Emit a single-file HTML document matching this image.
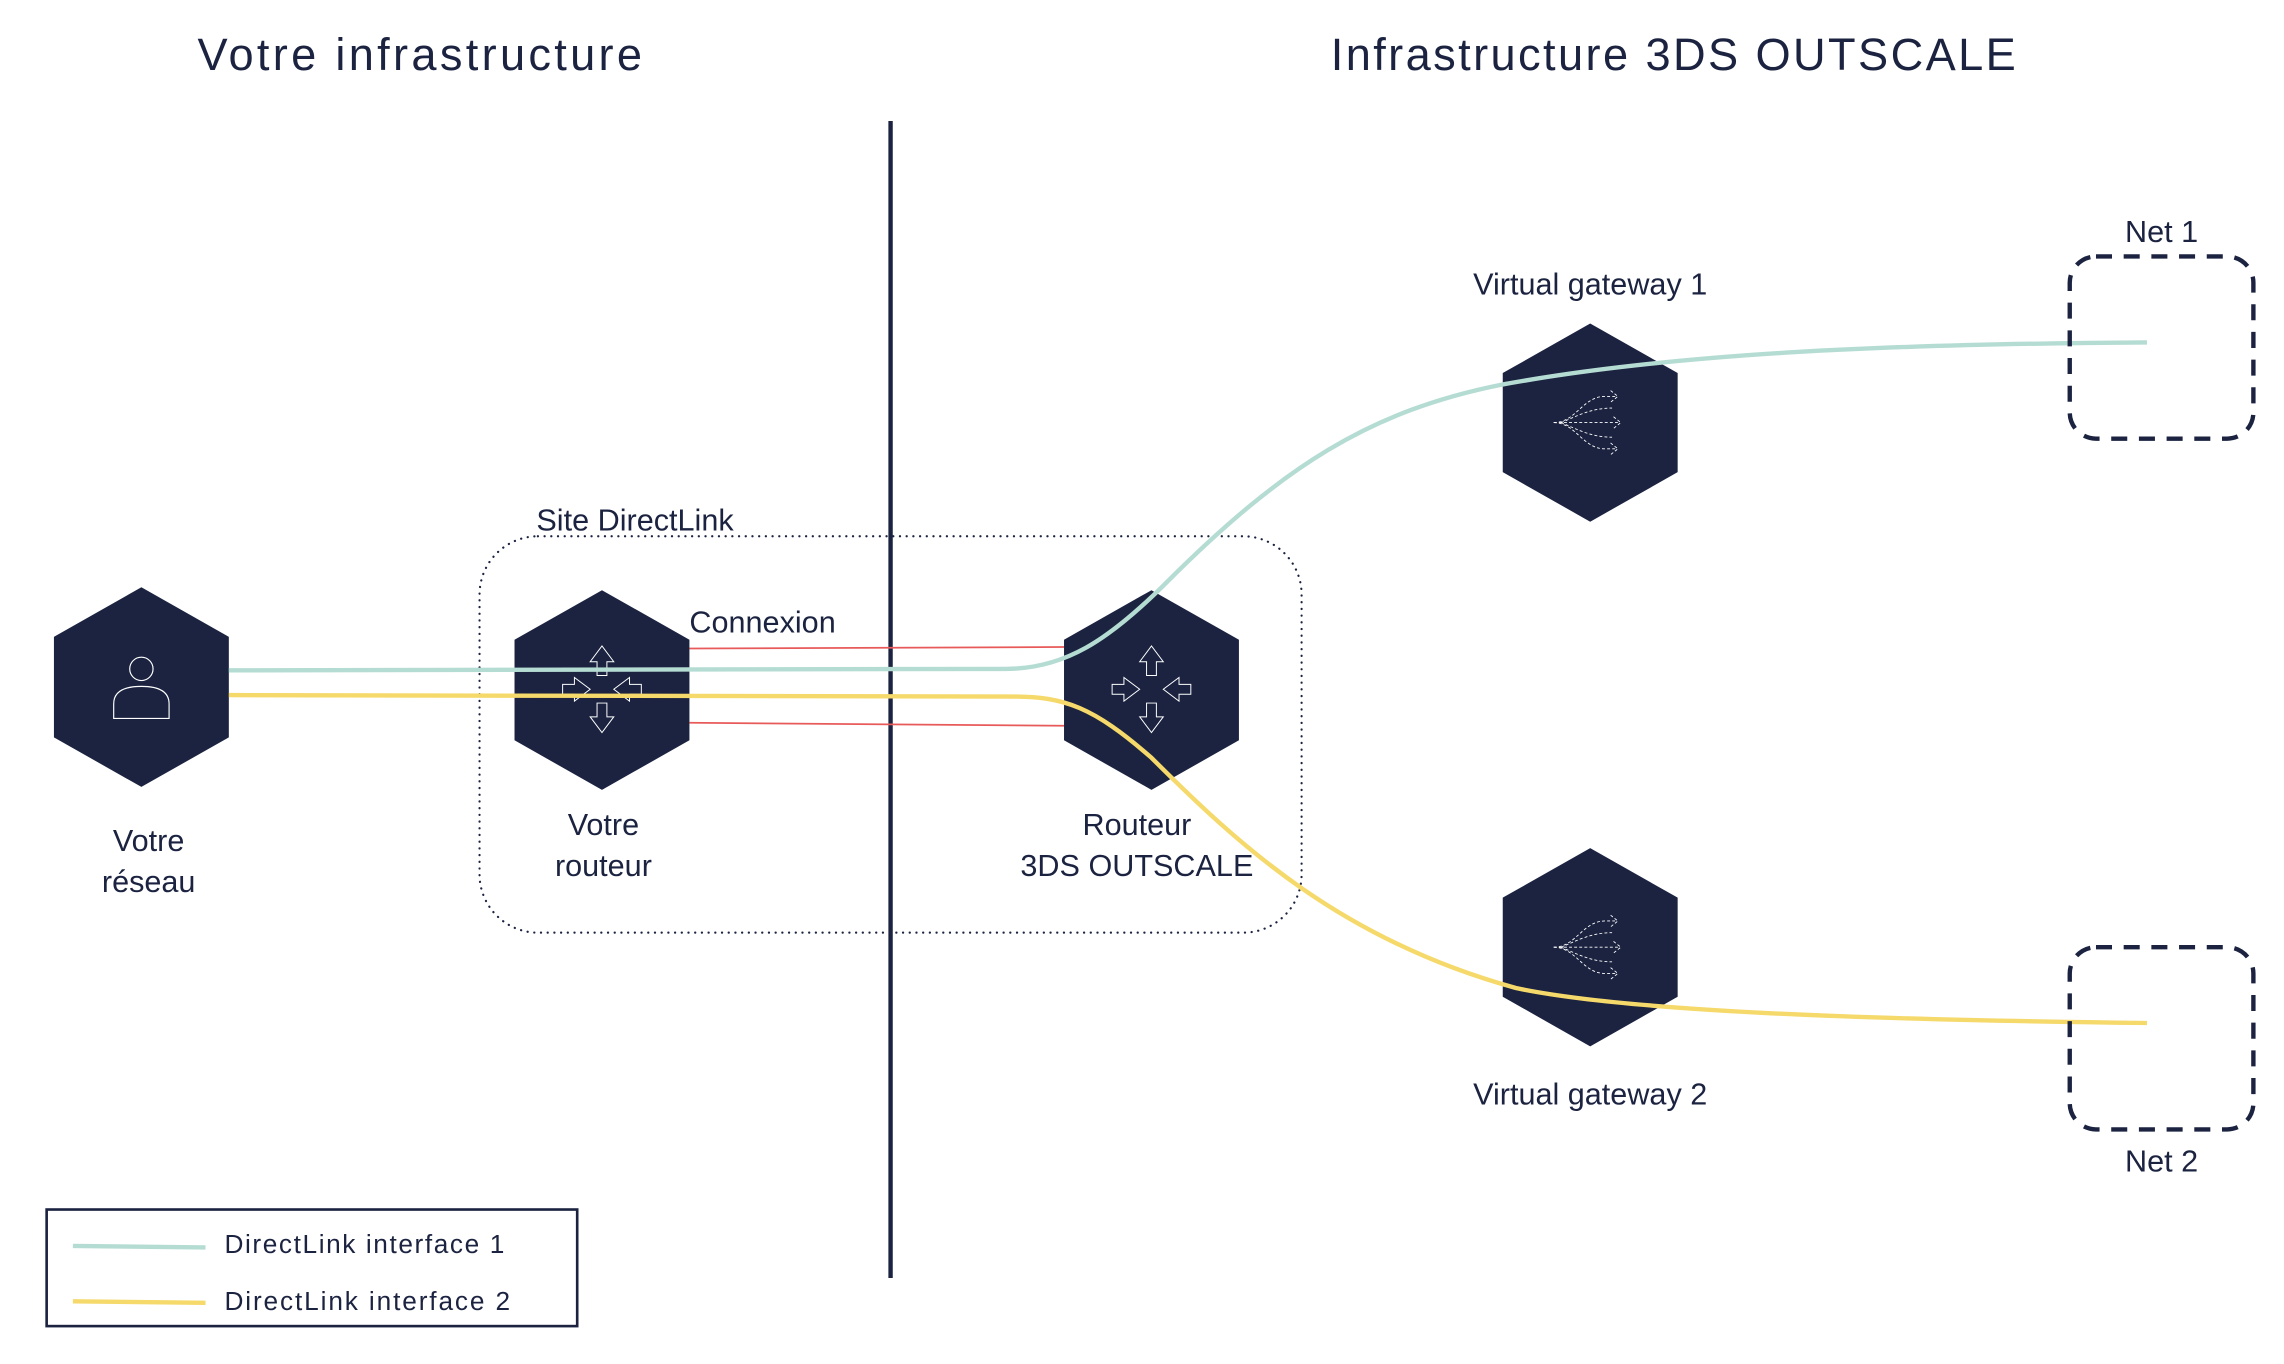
<!DOCTYPE html>
<html><head><meta charset="utf-8"><style>
html,body{margin:0;padding:0;background:#fff;}
svg{display:block;}
text{font-family:"Liberation Sans",sans-serif;fill:#1b2340;}
</style></head><body>
<svg width="2284" height="1364" viewBox="0 0 1567 936" preserveAspectRatio="none" xmlns="http://www.w3.org/2000/svg">
<defs>
<g id="arr4" fill="none" stroke="#fff" stroke-width="0.5">
  <path d="M-2.5,-7 L-2.5,-14 L-6,-14 L0,-22 L6,-14 L2.5,-14 L2.5,-7 Z"/>
  <path d="M-2.5,7 L-2.5,14 L-6,14 L0,22 L6,14 L2.5,14 L2.5,7 Z"/>
  <path d="M-20,-2.5 L-14,-2.5 L-14,-6 L-6,0 L-14,6 L-14,2.5 L-20,2.5 Z"/>
  <path d="M20,-2.5 L14,-2.5 L14,-6 L6,0 L14,6 L14,2.5 L20,2.5 Z"/>
</g>
<g id="vgi" fill="none" stroke="#fff" stroke-width="0.6" stroke-dasharray="2,1.5">
  <path d="M-25,0 L20,0 M16,-4 L21,0 L16,4"/>
  <path d="M-25,0 C-10,0 -5,-18 10,-18 L18,-18 M14,-22 L19,-18 L14,-14"/>
  <path d="M-25,0 C-10,0 -5,18 10,18 L18,18 M14,14 L19,18 L14,22"/>
  <path d="M-20,0 C-10,-4 0,-10 15,-10 M-20,0 C-10,4 0,10 15,10"/>
</g>
</defs>

<text x="288" y="48" font-size="31" text-anchor="middle" textLength="305">Votre infrastructure</text>
<text x="1148" y="48" font-size="31" text-anchor="middle" textLength="470">Infrastructure 3DS OUTSCALE</text>

<rect x="329" y="368" width="564" height="272" rx="40" fill="none" stroke="#1b2340" stroke-width="1.5" stroke-dasharray="0.1,4.5" stroke-linecap="round"/>
<text x="368" y="364" font-size="21">Site DirectLink</text>
<text x="473" y="434" font-size="21">Connexion</text>

<line x1="611" y1="83" x2="611" y2="877" stroke="#1b2340" stroke-width="3"/>

<polygon points="97,403 157,437 157,506 97,540 37,506 37,437" fill="#1b2340"/>
<polygon points="413,405 473,439 473,508 413,542 353,508 353,439" fill="#1b2340"/>
<polygon points="790,405 850,439 850,508 790,542 730,508 730,439" fill="#1b2340"/>
<polygon points="1091,222 1151,256 1151,324 1091,358 1031,324 1031,256" fill="#1b2340"/>
<polygon points="1091,582 1151,616 1151,684 1091,718 1031,684 1031,616" fill="#1b2340"/>

<g fill="none" stroke="#fff" stroke-width="0.8">
  <ellipse cx="97" cy="459" rx="8" ry="8"/>
  <path d="M78,493 L78,483 C78,474 86,471 97,471 C108,471 116,474 116,483 L116,493 Z"/>
</g>
<g transform="translate(413,473) scale(1.35)"><use href="#arr4"/></g>
<g transform="translate(790,473) scale(1.35)"><use href="#arr4"/></g>
<use href="#vgi" x="1091" y="290"/>
<use href="#vgi" x="1091" y="650"/>

<line x1="473" y1="445" x2="730" y2="444" stroke="#e85a5a" stroke-width="1.2"/>
<line x1="473" y1="496" x2="730" y2="498" stroke="#e85a5a" stroke-width="1.2"/>

<path d="M157,460 L690,459 C730,459 760,440 800,400 C880,320 940,282 1030,264 C1150,242 1300,236 1473,235" fill="none" stroke="#b5dcd2" stroke-width="3"/>
<path d="M157,477 L695,478 C730,478 750,485 790,520 C850,580 920,645 1040,678 C1120,695 1300,700 1473,702" fill="none" stroke="#f5d96b" stroke-width="3"/>

<rect x="1420" y="176" width="126" height="125" rx="18" fill="none" stroke="#1b2340" stroke-width="3" stroke-dasharray="11,8"/>
<rect x="1420" y="650" width="126" height="125" rx="18" fill="none" stroke="#1b2340" stroke-width="3" stroke-dasharray="11,8"/>
<text x="1483" y="166" font-size="21" text-anchor="middle">Net 1</text>
<text x="1483" y="804" font-size="21" text-anchor="middle">Net 2</text>
<text x="1091" y="202" font-size="21" text-anchor="middle">Virtual gateway 1</text>
<text x="1091" y="758" font-size="21" text-anchor="middle">Virtual gateway 2</text>

<text x="102" y="584" font-size="21" text-anchor="middle">Votre</text>
<text x="102" y="612" font-size="21" text-anchor="middle">réseau</text>
<text x="414" y="573" font-size="21" text-anchor="middle">Votre</text>
<text x="414" y="601" font-size="21" text-anchor="middle">routeur</text>
<text x="780" y="573" font-size="21" text-anchor="middle">Routeur</text>
<text x="780" y="601" font-size="21" text-anchor="middle">3DS OUTSCALE</text>

<rect x="32" y="830" width="364" height="80" fill="none" stroke="#1b2340" stroke-width="1.8"/>
<line x1="50" y1="855" x2="141" y2="856" stroke="#b5dcd2" stroke-width="3"/>
<line x1="50" y1="893" x2="141" y2="894" stroke="#f5d96b" stroke-width="3"/>
<text x="154" y="860" font-size="18" textLength="192">DirectLink interface 1</text>
<text x="154" y="899" font-size="18" textLength="196">DirectLink interface 2</text>
</svg>
</body></html>
